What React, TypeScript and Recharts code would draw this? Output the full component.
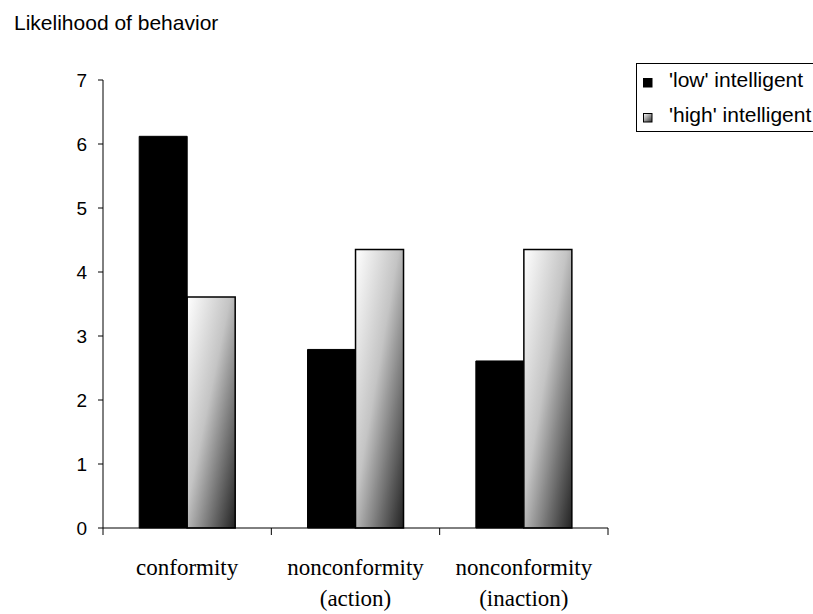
import React from 'react';
import { BarChart, Bar, XAxis, YAxis } from 'recharts';

const categories = ['conformity', 'nonconformity\n(action)', 'nonconformity\n(inaction)'];
const lowIntelligent = [6.12, 2.79, 2.61];
const highIntelligent = [3.61, 4.35, 4.35];
const yTicks = [0, 1, 2, 3, 4, 5, 6, 7];
const seriesNames = ["'low' intelligent", "'high' intelligent"];
const chartTitle = 'Likelihood of behavior';

const data = categories.map((c, i) => ({ name: c, low: lowIntelligent[i], high: highIntelligent[i] }));

const SANS = '"Liberation Sans", Arial, sans-serif';
const SERIF = '"Liberation Serif", "Times New Roman", serif';

const CHART_W = 813;
const CHART_H = 614;
const MARGIN = { top: 80, right: 205, bottom: 0, left: 40 };
const Y_AXIS_W = 63;
const PLOT_W = CHART_W - MARGIN.left - MARGIN.right - Y_AXIS_W;

const CatTick = (props: any) => {
  const { x, y, payload, index } = props;
  const band = (typeof props.width === 'number' && props.width > 0 ? props.width : PLOT_W) / categories.length;
  const lines = String(payload.value).split('\n');
  const left = x - band / 2;
  const right = x + band / 2;
  return (
    <g>
      <line x1={left} y1={y} x2={left} y2={y + 7} stroke="#000" strokeWidth={1} />
      {index === categories.length - 1 && (
        <line x1={right} y1={y} x2={right} y2={y + 7} stroke="#000" strokeWidth={1} />
      )}
      {lines.map((l, i) => (
        <text key={i} x={x} y={y + 47 + i * 31} textAnchor="middle" fontFamily={SERIF} fontSize={23} fill="#000">
          {l}
        </text>
      ))}
    </g>
  );
};

const LegendBox = () => (
  <div
    style={{
      position: 'absolute',
      left: 636,
      top: 63,
      width: 200,
      height: 69,
      boxSizing: 'border-box',
      border: '1px solid #000',
      background: '#fff',
    }}
  >
    <svg width={200} height={69} style={{ position: 'absolute', left: -1, top: -1 }}>
      <defs>
        <linearGradient id="legGrad" x1="0" y1="0" x2="1" y2="1">
          <stop offset="0%" stopColor="#ffffff" />
          <stop offset="100%" stopColor="#333333" />
        </linearGradient>
      </defs>
      {seriesNames.map((n, i) => (
        <g key={i}>
          <rect x={7.5} y={15.5 + i * 35} width={8.5} height={8.5} fill={i === 0 ? '#000' : 'url(#legGrad)'} stroke="#000" strokeWidth={1} />
          <text x={33} y={24 + i * 35} fontFamily={SANS} fontSize={21} fill="#000">{n}</text>
        </g>
      ))}
    </svg>
  </div>
);

export default function App() {
  return (
    <div style={{ position: 'absolute', left: 0, top: 0, width: CHART_W, height: CHART_H, background: '#fff', overflow: 'hidden' }}>
      <svg width={300} height={40} style={{ position: 'absolute', left: 0, top: 0 }}>
        <text x={14} y={30} fontFamily={SANS} fontSize={21} fill="#000">{chartTitle}</text>
      </svg>
      <BarChart
        width={CHART_W}
        height={CHART_H}
        data={data}
        margin={MARGIN}
        barCategoryGap="21.5%"
        barGap={0}
      >
        <defs>
          <linearGradient id="highGrad" x1="0" y1="0" x2="1" y2="1">
            <stop offset="0%" stopColor="#ffffff" />
            <stop offset="45%" stopColor="#c4c4c4" />
            <stop offset="100%" stopColor="#222222" />
          </linearGradient>
        </defs>
        <XAxis
          dataKey="name"
          height={86}
          axisLine={{ stroke: '#000', strokeWidth: 1 }}
          tickLine={false}
          tickSize={0}
          tickMargin={0}
          tick={<CatTick />}
          interval={0}
        />
        <YAxis
          domain={[0, 7]}
          ticks={yTicks}
          width={Y_AXIS_W}
          axisLine={{ stroke: '#000', strokeWidth: 1 }}
          tickLine={{ stroke: '#000', strokeWidth: 1 }}
          tickSize={5}
          tickMargin={11}
          tick={{ fontFamily: SANS, fontSize: 19, fill: '#000' }}
          interval={0}
        />
        <Bar dataKey="low" name={seriesNames[0]} fill="#000" stroke="#000" strokeWidth={1} isAnimationActive={false} />
        <Bar dataKey="high" name={seriesNames[1]} fill="url(#highGrad)" stroke="#000" strokeWidth={1.5} isAnimationActive={false} />
      </BarChart>
      <LegendBox />
    </div>
  );
}
